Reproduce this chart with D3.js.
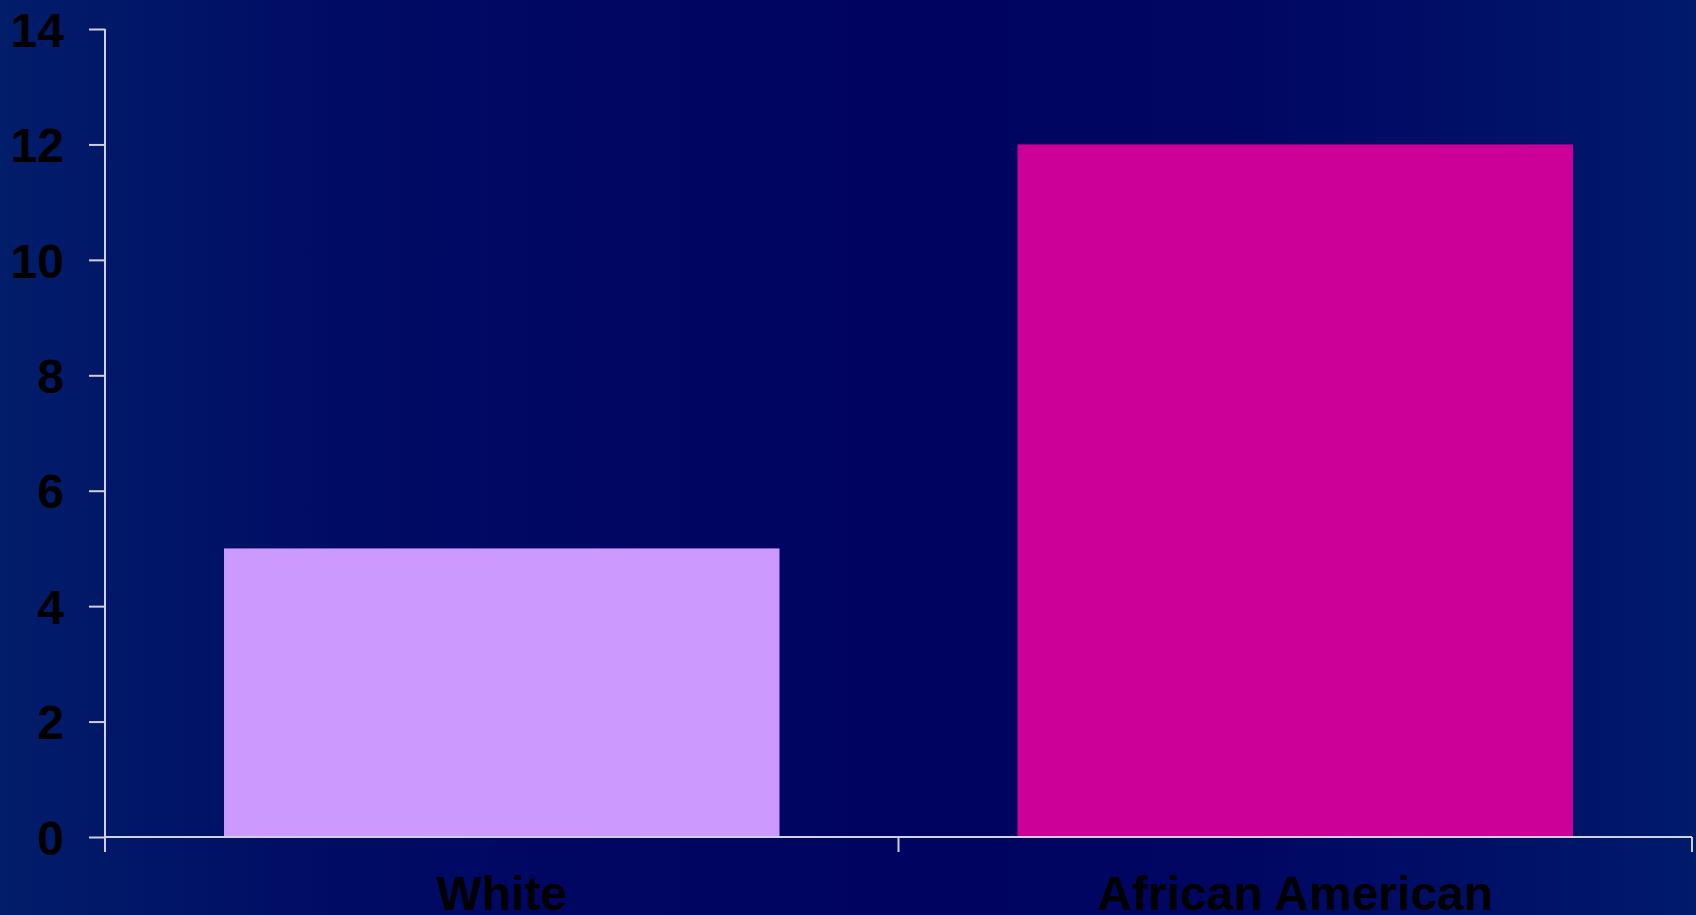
<!DOCTYPE html>
<html>
<head>
<meta charset="utf-8">
<script src="https://cdn.jsdelivr.net/npm/d3@7"></script>
<style>
html,body{margin:0;padding:0;overflow:hidden;}
svg{display:block;}
</style>
</head>
<body>
<svg id="chart" width="1696" height="915"></svg>
<script>
const categories = ["White", "African American"];
const values = [5, 12];
const barColors = ["#CC99FF", "#CC0099"];
const yTicks = [0, 2, 4, 6, 8, 10, 12, 14];

(function () {
const W = 1696, H = 915;
const svg = d3.select("#chart");

// background gradient
const defs = svg.append("defs");
const grad = defs.append("linearGradient").attr("id", "bg").attr("x1", "0%").attr("x2", "100%").attr("y1", "0%").attr("y2", "0%");
[["0%", "#021d6a"], ["8%", "#011668"], ["20%", "#000c64"], ["35%", "#000662"], ["55%", "#000460"], ["72%", "#000662"], ["85%", "#000e66"], ["100%", "#001a6c"]]
  .forEach(([o, c]) => grad.append("stop").attr("offset", o).attr("stop-color", c));
svg.append("rect").attr("width", W).attr("height", H).attr("fill", "url(#bg)");

const mLeft = 105, mRight = 1692, mTop = 29, mBottom = 837;

const x = d3.scaleBand().domain(categories).range([mLeft, mRight]).paddingInner(0).paddingOuter(0);
const y = d3.scaleLinear().domain([0, 14]).range([mBottom, mTop]);

const axisColor = "#cfcfe0";
const font = "'Liberation Sans', Arial, sans-serif";

// bars
const inset = x.step() * 0.15;
svg.append("g").selectAll("rect").data(categories).join("rect")
  .attr("x", d => x(d) + inset)
  .attr("width", x.bandwidth() - 2 * inset)
  .attr("y", (d, i) => y(values[i]))
  .attr("height", (d, i) => y(0) - y(values[i]))
  .attr("fill", (d, i) => barColors[i]);

// y axis
const yAxis = d3.axisLeft(y).tickValues(yTicks).tickSize(16).tickPadding(25).tickFormat(d3.format("d"));
const gy = svg.append("g").attr("transform", `translate(${mLeft},0)`).call(yAxis);
gy.select(".domain").remove();
gy.selectAll(".tick line").attr("stroke", axisColor).attr("stroke-width", 2);
gy.selectAll(".tick text")
  .attr("fill", "#000").attr("font-family", font).attr("font-weight", "bold").attr("font-size", 48)
  .attr("dy", "0.36em");
svg.append("line").attr("x1", mLeft).attr("x2", mLeft).attr("y1", mTop).attr("y2", mBottom + 15)
  .attr("stroke", axisColor).attr("stroke-width", 2);

// x axis
svg.append("line").attr("x1", mLeft).attr("x2", mRight).attr("y1", mBottom).attr("y2", mBottom)
  .attr("stroke", axisColor).attr("stroke-width", 2);
const boundaries = categories.map(c => x(c) + x.step());
svg.append("g").selectAll("line").data(boundaries).join("line")
  .attr("x1", d => d).attr("x2", d => d).attr("y1", mBottom).attr("y2", mBottom + 15)
  .attr("stroke", axisColor).attr("stroke-width", 2);

svg.append("g").selectAll("text").data(categories).join("text")
  .attr("x", d => x(d) + x.bandwidth() / 2)
  .attr("y", 910)
  .attr("text-anchor", "middle")
  .attr("fill", "#000").attr("font-family", font).attr("font-weight", "bold").attr("font-size", 48)
  .text(d => d);
})();
</script>
</body>
</html>
